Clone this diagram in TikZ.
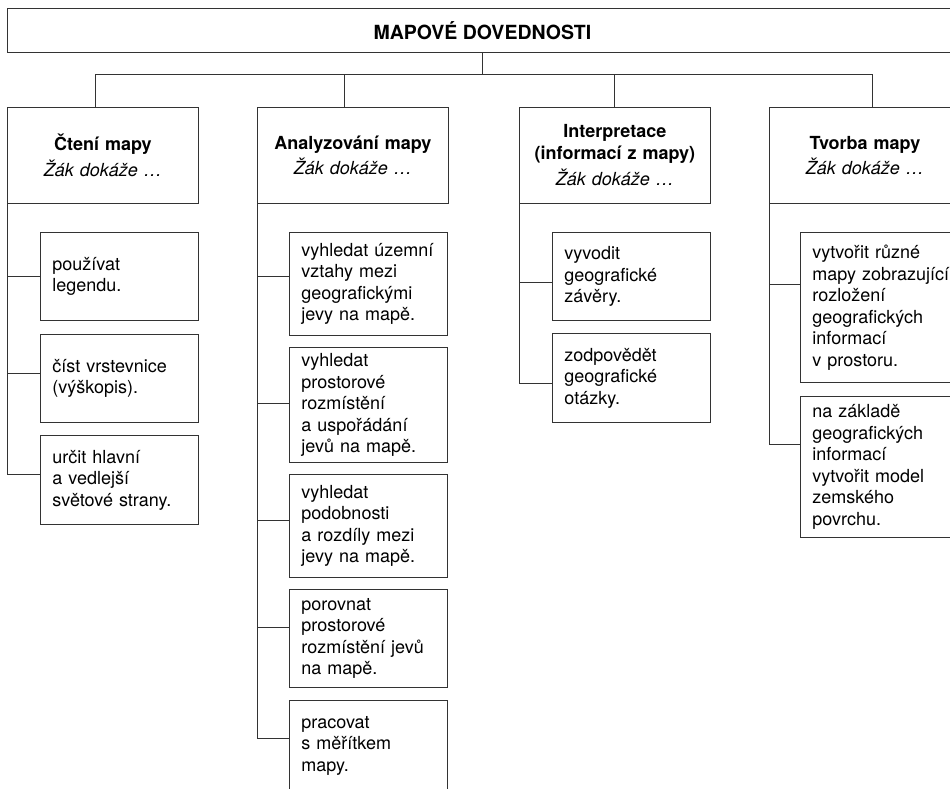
\documentclass[tikz,border=0pt]{standalone}
\usepackage{fontspec}
\setmainfont{TeX Gyre Heros}
\tikzset{
  treebox/.style={draw=black!80, line width=0.9pt, fill=white, inner sep=0pt, font=\fontsize{18pt}{21.5pt}\selectfont},
  titlebox/.style={treebox, minimum width=950pt, minimum height=44pt, font=\fontsize{19.5pt}{22pt}\selectfont\bfseries},
  headbox/.style={treebox, minimum width=191pt, minimum height=96pt, text width=170pt, align=center},
  itembox/.style={treebox, inner xsep=12pt, text width=134pt, align=left},
  link/.style={draw=black!80, line width=0.9pt}
}
\begin{document}
\begin{tikzpicture}[x=1pt, y=-1pt]
\useasboundingbox (0,0) rectangle (950,788);
\clip (0,0) rectangle (950,788);
% top
\node [titlebox, anchor=north west] (title) at (7,8) {MAPOVÉ DOVEDNOSTI};
% headers
\node [headbox, anchor=north west] (h1) at (7,107) {\textbf{Čtení mapy}\\[4pt]\textit{Žák dokáže …}};
\node [headbox, anchor=north west] (h2) at (257,107) {\textbf{Analyzování mapy}\\[4pt]\textit{Žák dokáže …}};
\node [headbox, anchor=north west] (h3) at (519,107) {\textbf{Interpretace}\\\textbf{(informací z mapy)}\\[5pt]\textit{Žák dokáže …}};
\node [headbox, anchor=north west] (h4) at (769,107) {\textbf{Tvorba mapy}\\[4pt]\textit{Žák dokáže …}};
% column 1
\node [itembox, anchor=north west, minimum height=88pt] (c11) at (40,232) {používat\\legendu.};
\node [itembox, anchor=north west, minimum height=88pt] (c12) at (40,334) {číst vrstevnice\\(výškopis).};
\node [itembox, anchor=north west, minimum height=89pt] (c13) at (40,435) {určit hlavní\\a vedlejší\\světové strany.};
% column 2
\node [itembox, anchor=north west, minimum height=103pt] (c21) at (289,232) {vyhledat územní\\vztahy mezi\\geografickými\\jevy na mapě.};
\node [itembox, anchor=north west, minimum height=115pt] (c22) at (289,347) {vyhledat\\prostorové\\rozmístění\\a uspořádání\\jevů na mapě.};
\node [itembox, anchor=north west, minimum height=103pt] (c23) at (289,474) {vyhledat\\podobnosti\\a rozdíly mezi\\jevy na mapě.};
\node [itembox, anchor=north west, minimum height=98pt] (c24) at (289,589) {porovnat\\prostorové\\rozmístění jevů\\na mapě.};
\node [itembox, anchor=north west, minimum height=90pt] (c25) at (289,700) {pracovat\\s měřítkem\\mapy.};
% column 3
\node [itembox, anchor=north west, minimum height=88pt] (c31) at (552,232) {vyvodit\\geografické\\závěry.};
\node [itembox, anchor=north west, minimum height=89pt] (c32) at (552,333) {zodpovědět\\geografické\\otázky.};
% column 4
\node [itembox, anchor=north west, minimum height=150pt] (c41) at (800,232) {vytvořit různé\\\mbox{mapy zobrazující}\\rozložení\\geografických\\informací\\v prostoru.};
\node [itembox, anchor=north west, minimum height=141pt] (c42) at (800,396) {na základě\\geografických\\informací\\vytvořit model\\zemského\\povrchu.};
% tree lines
\draw [link] (title.south) -- ++(0,22) coordinate (bus);
\draw [link] ([xshift=-7.5pt]h1.north) |- (bus) -| ([xshift=7pt]h4.north);
\draw [link] ([xshift=-9pt]h2.north) -- ([xshift=-9pt]h2.north |- bus);
\draw [link] ([xshift=-1pt]h3.north) -- ([xshift=-1pt]h3.north |- bus);
\draw [link] (h1.south west) |- (c11.west);
\draw [link] (h1.south west) |- ([yshift=5pt]c12.west);
\draw [link] (h1.south west) |- ([yshift=6pt]c13.west);
\draw [link] (h2.south west) |- ([yshift=8pt]c21.west);
\draw [link] (h2.south west) |- ([yshift=2pt]c22.west);
\draw [link] (h2.south west) |- ([yshift=6pt]c23.west);
\draw [link] (h2.south west) |- ([yshift=11pt]c24.west);
\draw [link] (h2.south west) |- ([yshift=7pt]c25.west);
\draw [link] (h3.south west) |- ([yshift=-6pt]c31.west);
\draw [link] (h3.south west) |- ([yshift=-5pt]c32.west);
\draw [link] (h4.south west) |- ([yshift=23pt]c41.west);
\draw [link] (h4.south west) |- ([yshift=23pt]c42.west);
\end{tikzpicture}
\end{document}
